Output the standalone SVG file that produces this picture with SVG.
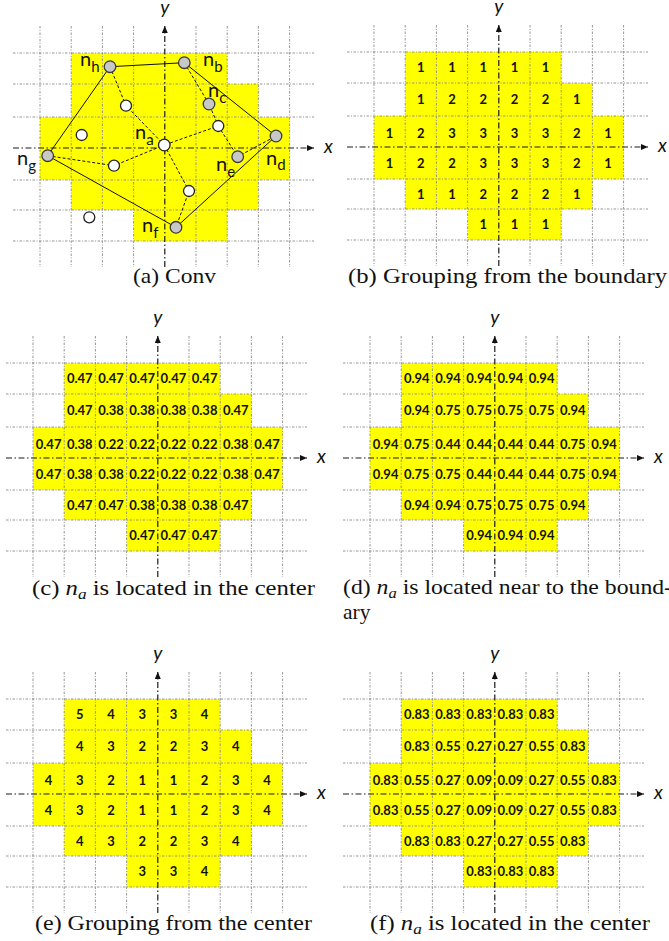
<svg xmlns="http://www.w3.org/2000/svg" xmlns:xlink="http://www.w3.org/1999/xlink" width="669" height="941" viewBox="0 0 669 941">
<style>
.gl{stroke:#8a8a8a;stroke-width:0.9;stroke-dasharray:2.5 1.5 1 1.5;fill:none}
.ax{stroke:#1a1a1a;stroke-width:1.2;stroke-dasharray:6 2.5 1.5 2.5;fill:none}
.cell{fill:#ffff00}
.num{font-family:Lato,"Open Sans",sans-serif;font-weight:bold;font-size:13px;text-anchor:middle;dominant-baseline:central;fill:#111}
.cap{font-family:"Liberation Serif",serif;font-size:21.5px;fill:#111}
.axl{font-family:Lato,"Open Sans",sans-serif;font-style:italic;font-size:19px;fill:#111}
.nl{font-family:Lato,"Open Sans",sans-serif;font-size:20px;fill:#111}
.sub{font-size:15px}
.edge{stroke:#111;stroke-width:1;fill:none}
.dash{stroke:#111;stroke-width:1;stroke-dasharray:3 2;fill:none}
.gray{fill:#c8c8c8;stroke:#3a3a3a;stroke-width:1.3}
.white{fill:#fff;stroke:#222;stroke-width:1.3}
</style>
<defs>
<marker id="arr" markerUnits="userSpaceOnUse" markerWidth="8" markerHeight="7" refX="7" refY="3" orient="auto">
<path d="M0,0 L7,3 L0,6 z" fill="#111"/>
</marker>
<g id="cells">
<rect class="cell" x="31.2" y="0" width="156" height="31"/>
<rect class="cell" x="31.2" y="31" width="187.2" height="33"/>
<rect class="cell" x="0" y="64" width="249.6" height="63"/>
<rect class="cell" x="31.2" y="127" width="187.2" height="30"/>
<rect class="cell" x="93.6" y="157" width="93.6" height="31"/>
</g>
<g id="grid">
<path class="gl" d="M0,-27V214M31.2,-27V214M62.4,-27V214M93.6,-27V214M156,-27V214M187.2,-27V214M218.4,-27V214M249.6,-27V214"/>
<path class="gl" d="M-27,0H274M-27,31H274M-27,64H274M-27,127H274M-27,157H274M-27,188H274"/>
<line class="ax" x1="-27" y1="95" x2="274" y2="95" marker-end="url(#arr)"/>
<line class="ax" x1="124.8" y1="214" x2="124.8" y2="-27" marker-end="url(#arr)"/>
<text class="axl" x="284" y="100">x</text>
<text class="axl" x="124.8" y="-39" text-anchor="middle">y</text>
</g>
</defs>

<!-- Panel (a) -->
<g id="panel-a">
<use xlink:href="#cells" transform="translate(40,53)"/>
<use xlink:href="#grid" transform="translate(40,53)"/>
<g id="connectors">
<polygon class="edge" points="110,66.7 184.3,62.7 276,136 176,227.3 47.7,155.7"/>
<path class="dash" d="M110,66.7L126,105.7L164.3,145"/>
<path class="dash" d="M184.3,62.7L209,104L218.3,126L164.3,145"/>
<path class="dash" d="M218.3,126L237.7,156.7L276,136"/>
<path class="dash" d="M47.7,155.7L114,165.7L164.3,145"/>
<path class="dash" d="M164.3,145L189,191L176,227.3"/>
</g>
<g id="node-h"><circle class="gray" cx="110" cy="66.7" r="5.8"/><text class="nl" x="80" y="66">n<tspan class="sub" dy="6">h</tspan></text></g>
<g id="node-b"><circle class="gray" cx="184.3" cy="62.7" r="5.8"/><text class="nl" x="203" y="66">n<tspan class="sub" dy="6">b</tspan></text></g>
<g id="node-c"><circle class="gray" cx="209" cy="104" r="5.8"/><text class="nl" x="208" y="97">n<tspan class="sub" dy="6">c</tspan></text></g>
<g id="node-a"><circle class="white" cx="164.3" cy="145" r="5.8"/><text class="nl" x="135" y="139">n<tspan class="sub" dy="5.5">a</tspan></text></g>
<g id="node-d"><circle class="gray" cx="276" cy="136" r="5.8"/><text class="nl" x="266" y="165">n<tspan class="sub" dy="5">d</tspan></text></g>
<g id="node-e"><circle class="gray" cx="237.7" cy="156.7" r="5.8"/><text class="nl" x="216" y="171">n<tspan class="sub" dy="6">e</tspan></text></g>
<g id="node-f"><circle class="gray" cx="176" cy="227.3" r="5.8"/><text class="nl" x="142" y="232">n<tspan class="sub" dy="5.5">f</tspan></text></g>
<g id="node-g"><circle class="gray" cx="47.7" cy="155.7" r="5.8"/><text class="nl" x="17" y="165">n<tspan class="sub" dy="6">g</tspan></text></g>
<g id="node-w1"><circle class="white" cx="126" cy="105.7" r="5.5"/></g>
<g id="node-w2"><circle class="white" cx="218.3" cy="126" r="5.5"/></g>
<g id="node-w3"><circle class="white" cx="81.7" cy="135" r="5.5"/></g>
<g id="node-w4"><circle class="white" cx="114" cy="165.7" r="5.5"/></g>
<g id="node-w5"><circle class="white" cx="189" cy="191" r="5.5"/></g>
<g id="node-w6"><circle class="white" cx="89.3" cy="217.3" r="5.5"/></g>
<text class="cap" x="133" y="283" textLength="83" lengthAdjust="spacingAndGlyphs">(a) Conv</text>
</g>

<!-- Panel (b) -->
<g id="panel-b">
<g transform="translate(374,52)">
<use xlink:href="#cells"/>
<use xlink:href="#grid"/>
<text class="num" y="15"><tspan x="46.8">1</tspan><tspan x="78">1</tspan><tspan x="109.2">1</tspan><tspan x="140.4">1</tspan><tspan x="171.6">1</tspan></text>
<text class="num" y="47"><tspan x="46.8">1</tspan><tspan x="78">2</tspan><tspan x="109.2">2</tspan><tspan x="140.4">2</tspan><tspan x="171.6">2</tspan><tspan x="202.8">1</tspan></text>
<text class="num" y="80.5"><tspan x="15.6">1</tspan><tspan x="46.8">2</tspan><tspan x="78">3</tspan><tspan x="109.2">3</tspan><tspan x="140.4">3</tspan><tspan x="171.6">3</tspan><tspan x="202.8">2</tspan><tspan x="234">1</tspan></text>
<text class="num" y="111"><tspan x="15.6">1</tspan><tspan x="46.8">2</tspan><tspan x="78">2</tspan><tspan x="109.2">3</tspan><tspan x="140.4">3</tspan><tspan x="171.6">3</tspan><tspan x="202.8">2</tspan><tspan x="234">1</tspan></text>
<text class="num" y="141.5"><tspan x="46.8">1</tspan><tspan x="78">1</tspan><tspan x="109.2">2</tspan><tspan x="140.4">2</tspan><tspan x="171.6">2</tspan><tspan x="202.8">1</tspan></text>
<text class="num" y="171.5"><tspan x="109.2">1</tspan><tspan x="140.4">1</tspan><tspan x="171.6">1</tspan></text>
</g>
<text class="cap" x="348" y="283" textLength="319" lengthAdjust="spacingAndGlyphs">(b) Grouping from the boundary</text>
</g>

<!-- Panel (c) -->
<g id="panel-c">
<g transform="translate(33,363)">
<use xlink:href="#cells"/>
<use xlink:href="#grid"/>
<text class="num" y="15"><tspan x="46.8">0.47</tspan><tspan x="78">0.47</tspan><tspan x="109.2">0.47</tspan><tspan x="140.4">0.47</tspan><tspan x="171.6">0.47</tspan></text>
<text class="num" y="47"><tspan x="46.8">0.47</tspan><tspan x="78">0.38</tspan><tspan x="109.2">0.38</tspan><tspan x="140.4">0.38</tspan><tspan x="171.6">0.38</tspan><tspan x="202.8">0.47</tspan></text>
<text class="num" y="80.5"><tspan x="15.6">0.47</tspan><tspan x="46.8">0.38</tspan><tspan x="78">0.22</tspan><tspan x="109.2">0.22</tspan><tspan x="140.4">0.22</tspan><tspan x="171.6">0.22</tspan><tspan x="202.8">0.38</tspan><tspan x="234">0.47</tspan></text>
<text class="num" y="111"><tspan x="15.6">0.47</tspan><tspan x="46.8">0.38</tspan><tspan x="78">0.38</tspan><tspan x="109.2">0.22</tspan><tspan x="140.4">0.22</tspan><tspan x="171.6">0.22</tspan><tspan x="202.8">0.38</tspan><tspan x="234">0.47</tspan></text>
<text class="num" y="141.5"><tspan x="46.8">0.47</tspan><tspan x="78">0.47</tspan><tspan x="109.2">0.38</tspan><tspan x="140.4">0.38</tspan><tspan x="171.6">0.38</tspan><tspan x="202.8">0.47</tspan></text>
<text class="num" y="171.5"><tspan x="109.2">0.47</tspan><tspan x="140.4">0.47</tspan><tspan x="171.6">0.47</tspan></text>
</g>
<text class="cap" x="32" y="595" textLength="283" lengthAdjust="spacingAndGlyphs">(c) <tspan font-style="italic">n</tspan><tspan font-style="italic" font-size="15" dy="3.5">a</tspan><tspan dy="-3.5"> is located in the center</tspan></text>
</g>

<!-- Panel (d) -->
<g id="panel-d">
<g transform="translate(370,363)">
<use xlink:href="#cells"/>
<use xlink:href="#grid"/>
<text class="num" y="15"><tspan x="46.8">0.94</tspan><tspan x="78">0.94</tspan><tspan x="109.2">0.94</tspan><tspan x="140.4">0.94</tspan><tspan x="171.6">0.94</tspan></text>
<text class="num" y="47"><tspan x="46.8">0.94</tspan><tspan x="78">0.75</tspan><tspan x="109.2">0.75</tspan><tspan x="140.4">0.75</tspan><tspan x="171.6">0.75</tspan><tspan x="202.8">0.94</tspan></text>
<text class="num" y="80.5"><tspan x="15.6">0.94</tspan><tspan x="46.8">0.75</tspan><tspan x="78">0.44</tspan><tspan x="109.2">0.44</tspan><tspan x="140.4">0.44</tspan><tspan x="171.6">0.44</tspan><tspan x="202.8">0.75</tspan><tspan x="234">0.94</tspan></text>
<text class="num" y="111"><tspan x="15.6">0.94</tspan><tspan x="46.8">0.75</tspan><tspan x="78">0.75</tspan><tspan x="109.2">0.44</tspan><tspan x="140.4">0.44</tspan><tspan x="171.6">0.44</tspan><tspan x="202.8">0.75</tspan><tspan x="234">0.94</tspan></text>
<text class="num" y="141.5"><tspan x="46.8">0.94</tspan><tspan x="78">0.94</tspan><tspan x="109.2">0.75</tspan><tspan x="140.4">0.75</tspan><tspan x="171.6">0.75</tspan><tspan x="202.8">0.94</tspan></text>
<text class="num" y="171.5"><tspan x="109.2">0.94</tspan><tspan x="140.4">0.94</tspan><tspan x="171.6">0.94</tspan></text>
</g>
<text class="cap" x="343" y="594" textLength="329" lengthAdjust="spacingAndGlyphs">(d) <tspan font-style="italic">n</tspan><tspan font-style="italic" font-size="15" dy="3.5">a</tspan><tspan dy="-3.5"> is located near to the bound-</tspan></text>
<text class="cap" x="343" y="619">ary</text>
</g>

<!-- Panel (e) -->
<g id="panel-e">
<g transform="translate(33,699)">
<use xlink:href="#cells"/>
<use xlink:href="#grid"/>
<text class="num" y="15"><tspan x="46.8">5</tspan><tspan x="78">4</tspan><tspan x="109.2">3</tspan><tspan x="140.4">3</tspan><tspan x="171.6">4</tspan></text>
<text class="num" y="47"><tspan x="46.8">4</tspan><tspan x="78">3</tspan><tspan x="109.2">2</tspan><tspan x="140.4">2</tspan><tspan x="171.6">3</tspan><tspan x="202.8">4</tspan></text>
<text class="num" y="80.5"><tspan x="15.6">4</tspan><tspan x="46.8">3</tspan><tspan x="78">2</tspan><tspan x="109.2">1</tspan><tspan x="140.4">1</tspan><tspan x="171.6">2</tspan><tspan x="202.8">3</tspan><tspan x="234">4</tspan></text>
<text class="num" y="111"><tspan x="15.6">4</tspan><tspan x="46.8">3</tspan><tspan x="78">2</tspan><tspan x="109.2">1</tspan><tspan x="140.4">1</tspan><tspan x="171.6">2</tspan><tspan x="202.8">3</tspan><tspan x="234">4</tspan></text>
<text class="num" y="141.5"><tspan x="46.8">4</tspan><tspan x="78">3</tspan><tspan x="109.2">2</tspan><tspan x="140.4">2</tspan><tspan x="171.6">3</tspan><tspan x="202.8">4</tspan></text>
<text class="num" y="171.5"><tspan x="109.2">3</tspan><tspan x="140.4">3</tspan><tspan x="171.6">4</tspan></text>
</g>
<text class="cap" x="35" y="930" textLength="277" lengthAdjust="spacingAndGlyphs">(e) Grouping from the center</text>
</g>

<!-- Panel (f) -->
<g id="panel-f">
<g transform="translate(370,699)">
<use xlink:href="#cells"/>
<use xlink:href="#grid"/>
<text class="num" y="15"><tspan x="46.8">0.83</tspan><tspan x="78">0.83</tspan><tspan x="109.2">0.83</tspan><tspan x="140.4">0.83</tspan><tspan x="171.6">0.83</tspan></text>
<text class="num" y="47"><tspan x="46.8">0.83</tspan><tspan x="78">0.55</tspan><tspan x="109.2">0.27</tspan><tspan x="140.4">0.27</tspan><tspan x="171.6">0.55</tspan><tspan x="202.8">0.83</tspan></text>
<text class="num" y="80.5"><tspan x="15.6">0.83</tspan><tspan x="46.8">0.55</tspan><tspan x="78">0.27</tspan><tspan x="109.2">0.09</tspan><tspan x="140.4">0.09</tspan><tspan x="171.6">0.27</tspan><tspan x="202.8">0.55</tspan><tspan x="234">0.83</tspan></text>
<text class="num" y="111"><tspan x="15.6">0.83</tspan><tspan x="46.8">0.55</tspan><tspan x="78">0.27</tspan><tspan x="109.2">0.09</tspan><tspan x="140.4">0.09</tspan><tspan x="171.6">0.27</tspan><tspan x="202.8">0.55</tspan><tspan x="234">0.83</tspan></text>
<text class="num" y="141.5"><tspan x="46.8">0.83</tspan><tspan x="78">0.83</tspan><tspan x="109.2">0.27</tspan><tspan x="140.4">0.27</tspan><tspan x="171.6">0.55</tspan><tspan x="202.8">0.83</tspan></text>
<text class="num" y="171.5"><tspan x="109.2">0.83</tspan><tspan x="140.4">0.83</tspan><tspan x="171.6">0.83</tspan></text>
</g>
<text class="cap" x="370" y="930" textLength="280" lengthAdjust="spacingAndGlyphs">(f) <tspan font-style="italic">n</tspan><tspan font-style="italic" font-size="15" dy="3.5">a</tspan><tspan dy="-3.5"> is located in the center</tspan></text>
</g>
</svg>
